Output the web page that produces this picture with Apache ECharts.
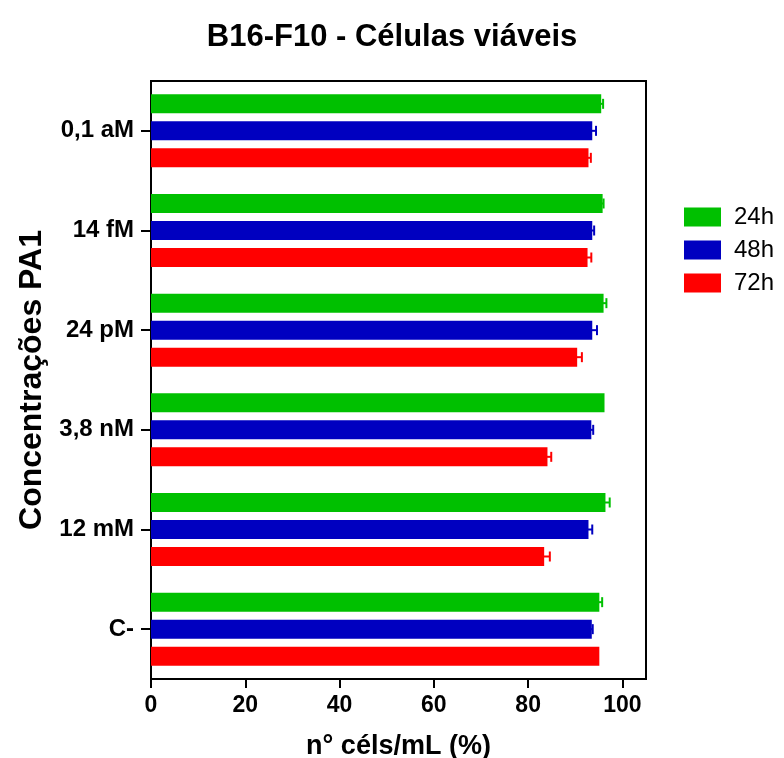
<!DOCTYPE html>
<html>
<head>
<meta charset="utf-8">
<script src="https://cdn.jsdelivr.net/npm/echarts@6/dist/echarts.min.js"></script>
<style>
  html, body { margin: 0; padding: 0; background: #fff; }
  #chart { width: 784px; height: 758px; }
</style>
</head>
<body>
<div id="chart"></div>
<script>
// Concentrations of PA1, listed top to bottom
const categories = ['0,1 aM', '14 fM', '24 pM', '3,8 nM', '12 mM', 'C-'];
const seriesNames = ['24h', '48h', '72h'];

// Viable cells (%) per concentration
const viable24h = [95.5, 95.8, 96.0, 96.2, 96.4, 95.1];
const viable48h = [93.6, 93.6, 93.6, 93.4, 92.8, 93.5];
const viable72h = [92.8, 92.6, 90.4, 84.1, 83.4, 95.1];

// Error (upper half of the error bar)
const err24h = [0.4, 0.2, 0.6, 0.0, 0.9, 0.6];
const err48h = [0.8, 0.4, 1.0, 0.4, 0.8, 0.2];
const err72h = [0.5, 0.8, 1.0, 0.8, 1.2, 0.0];

const xTicks = [0, 20, 40, 60, 80, 100];

const colors = ['#00C000', '#0000C0', '#FF0000'];
const values = [viable24h, viable48h, viable72h];
const errors = [err24h, err48h, err72h];

const BAR_W = 19;
const BAR_STEP = 27;   // distance between bar centres inside a group
const FONT = 'Liberation Sans';

const chart = echarts.init(document.getElementById('chart'), null, { renderer: 'canvas' });

const barSeries = seriesNames.map((name, i) => ({
  name: name,
  type: 'bar',
  data: values[i],
  barWidth: BAR_W,
  barGap: '42%',
  itemStyle: { color: colors[i] },
  z: 2
}));

const errSeries = seriesNames.map((name, i) => ({
  name: name,
  type: 'custom',
  data: values[i].map((v, k) => [v, k, errors[i][k]]),
  encode: { x: 0, y: 1 },
  z: 3,
  silent: true,
  renderItem: function (params, api) {
    const v = api.value(0);
    const k = api.value(1);
    const e = api.value(2);
    if (!e) return null;
    const p0 = api.coord([v - e, k]);
    const p1 = api.coord([v + e, k]);
    const y = p0[1] + (i - 1) * BAR_STEP;
    const capH = 5;
    const style = { stroke: colors[i], lineWidth: 2 };
    return {
      type: 'group',
      children: [
        { type: 'line', shape: { x1: p0[0], y1: y, x2: p1[0], y2: y }, style: style },
        { type: 'line', shape: { x1: p1[0], y1: y - capH, x2: p1[0], y2: y + capH }, style: style }
      ]
    };
  }
}));

const option = {
  backgroundColor: '#fff',
  animation: false,
  title: {
    text: 'B16-F10 - Células viáveis',
    left: 'center',
    top: 17,
    textStyle: { fontFamily: FONT, fontWeight: 'bold', fontSize: 31, color: '#000' }
  },
  legend: {
    data: seriesNames,
    orient: 'vertical',
    left: 679,
    top: 200,
    itemWidth: 37,
    itemHeight: 19,
    itemGap: 9,
    icon: 'rect',
    textStyle: {
      fontFamily: FONT, fontSize: 24, color: '#000',
      padding: [0, 0, 0, 8]
    }
  },
  grid: {
    left: 151, top: 81, right: 138, bottom: 79,
    outerBoundsMode: 'none',
    containLabel: false,
    show: true, borderColor: '#000', borderWidth: 2, backgroundColor: 'transparent'
  },
  xAxis: {
    type: 'value',
    min: 0,
    max: 105,
    interval: 20,
    name: 'n° céls/mL (%)',
    nameLocation: 'middle',
    nameGap: 54,
    nameTextStyle: { fontFamily: FONT, fontWeight: 'bold', fontSize: 27, color: '#000' },
    splitLine: { show: false },
    axisLine: { show: true, lineStyle: { color: '#000', width: 2 } },
    axisTick: { show: true, length: 9, lineStyle: { color: '#000', width: 2 }, customValues: xTicks },
    axisLabel: {
      margin: 15, color: '#000', fontFamily: FONT, fontWeight: 'bold', fontSize: 23,
      customValues: xTicks
    }
  },
  yAxis: {
    type: 'category',
    data: categories,
    inverse: true,
    name: 'Concentrações PA1',
    nameLocation: 'middle',
    nameGap: 103,
    nameTextStyle: { fontFamily: FONT, fontWeight: 'bold', fontSize: 32, color: '#000' },
    axisLine: { show: true, lineStyle: { color: '#000', width: 2 } },
    axisTick: { show: true, alignWithLabel: true, length: 10, lineStyle: { color: '#000', width: 2 } },
    axisLabel: { margin: 17, color: '#000', fontFamily: FONT, fontWeight: 'bold', fontSize: 24 },
    splitLine: { show: false }
  },
  series: barSeries.concat(errSeries)
};

chart.setOption(option);
</script>
</body>
</html>
